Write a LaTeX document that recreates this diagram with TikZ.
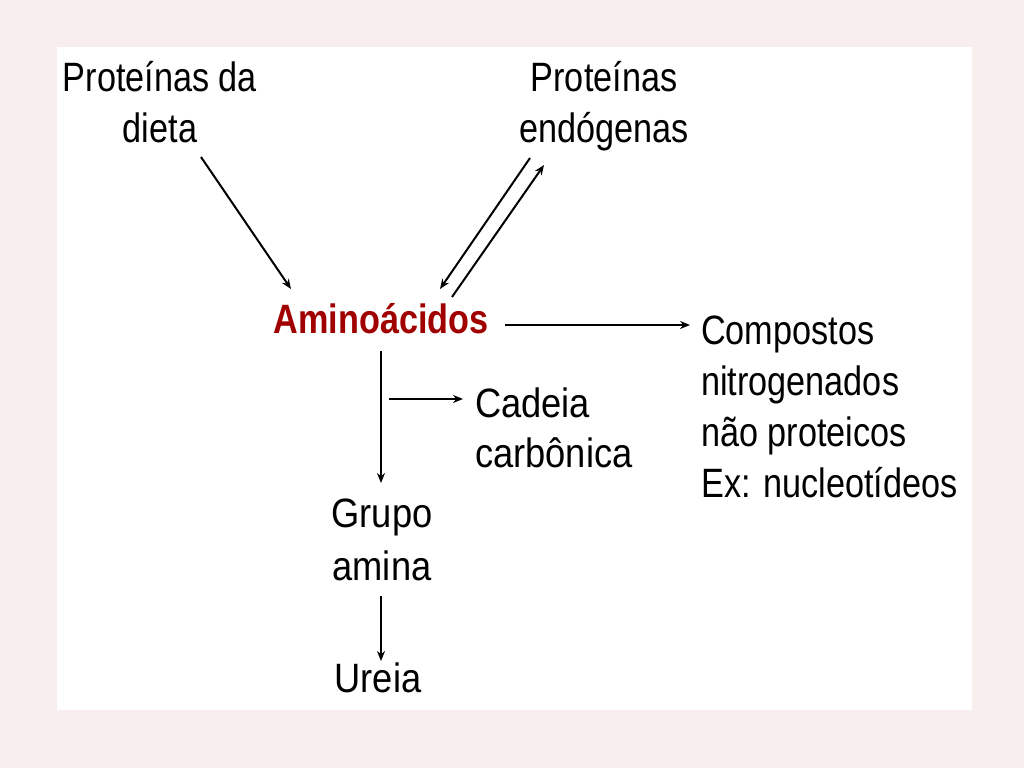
\documentclass[tikz,border=0pt]{standalone}
\usepackage{fontspec}
\setmainfont[FakeStretch=0.835]{Liberation Sans}
\usetikzlibrary{arrows.meta,calc}
\definecolor{bgpink}{RGB}{248,238,238}
\definecolor{aminored}{RGB}{160,0,0}
\begin{document}
\begin{tikzpicture}[x=1pt,y=-1pt,
  txt/.style={inner sep=0pt,font=\fontsize{41}{51}\selectfont},
  wide/.style={font=\fontsize{41}{#1}\selectfont\addfontfeature{FakeStretch=0.885}},
  arr/.style={line width=2pt,-{Stealth[length=10pt,width=8pt]}}]
\useasboundingbox (0,0) rectangle (1024,768);
\fill[bgpink] (0,0) rectangle (1024,768);
\fill[white] (57,47) rectangle (972,710);
\node[txt,align=center,anchor=base] (dieta) at (160,142) {Proteínas da\\dieta};
\node[txt,align=center,anchor=base] (endo) at (604,142) {Proteínas\\endógenas};
\node[txt,anchor=base,text=aminored,font=\fontsize{41}{51}\selectfont\bfseries] (amino) at (381,333) {Aminoácidos};
\node[txt,align=left,anchor=base west] (comp) at (701,497) {Compostos\\nitrogenados\\não proteicos\\Ex: nucleotídeos};
\node[txt,align=left,anchor=base west,wide=50] (cad) at (475,467) {Cadeia\\carbônica};
\node[txt,align=center,anchor=base,wide=53] (grupo) at (382,580) {Grupo\\amina};
\node[txt,anchor=base,wide=51] (ureia) at (378,692) {Ureia};
% connector end points
\coordinate (d1) at (201,157);
\coordinate (d2) at (291,289);
\coordinate (e1) at (530,158);
\coordinate (e2) at (440,289);
\coordinate (e3) at (452,297);
\coordinate (e4) at (544,165);
\coordinate (c1) at (505,325);
\coordinate (c2) at (690,325);
\coordinate (g1) at (381,351);
\coordinate (g2) at (381,483);
\coordinate (b1) at (389,399);
\coordinate (b2) at (463,399);
\coordinate (u1) at (381,596);
\coordinate (u2) at (381,661);
\draw[arr] (d1) -- (d2);
\draw[arr] (e1) -- (e2);
\draw[arr] (e3) -- (e4);
\draw[arr] (c1) -- (c2);
\draw[arr] (g1) -- (g2);
\draw[arr] (b1) -- (b2);
\draw[arr] (u1) -- (u2);
\end{tikzpicture}
\end{document}
